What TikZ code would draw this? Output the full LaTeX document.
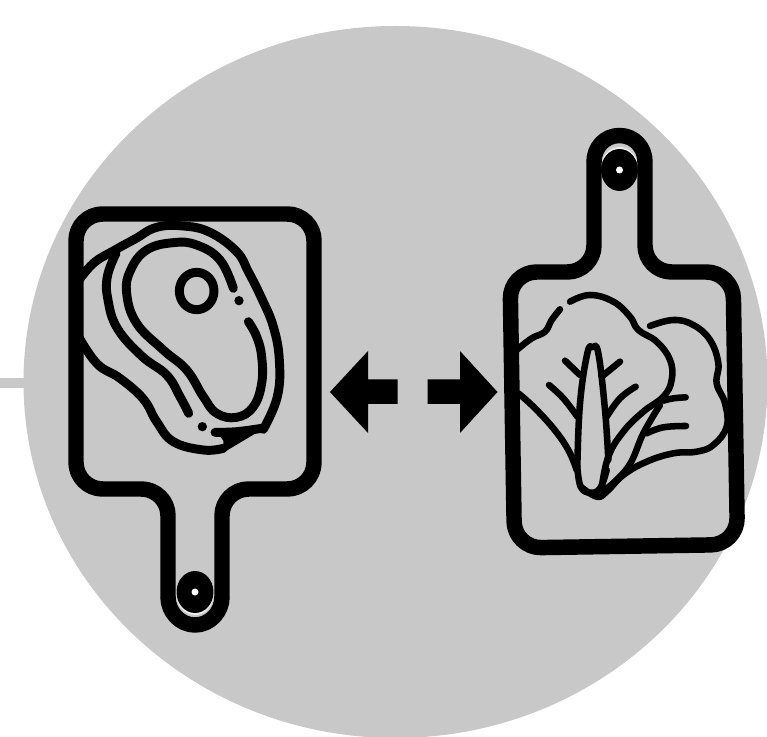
\documentclass[tikz,border=0pt]{standalone}
\usepackage{xcolor}
\usepackage{tikz}
\definecolor{discgray}{HTML}{C8C8C8}
\tikzset{
  boardline/.style={draw=black, line width=11.6pt, line join=round},
  boardbody/.style={boardline, rounded corners=20pt},
  meatline/.style={draw=black, line width=6.7pt, line cap=round, line join=round},
  leafline/.style={draw=black, line width=4.9pt, line cap=round, line join=round},
}
\begin{document}
\begin{tikzpicture}[x=0.75pt,y=-0.75pt]
\useasboundingbox (0,0) rectangle (767,737);

\begin{scope}
\clip (0,0) rectangle (767,737);
\fill[discgray] (395.5,382) ellipse[x radius=372, y radius=356];
\fill[discgray] (0,378) rectangle (30,388);
\end{scope}

% steak
\begin{scope}[shift={(60,200)},x=0.25pt,y=-0.25pt]
\draw[meatline] plot[smooth,tension=0.7] coordinates {(50,250) (100,190) (165,150) (225,117) (290,82) (370,78) (450,97) (530,155) (565,215) (605,295) (640,380) (658,480) (652,590) (610,688)};
\draw[meatline] plot[smooth,tension=0.7] coordinates {(50,400) (110,490) (180,535) (250,597) (290,665) (340,725) (430,750) (490,745)};
\draw[meatline] plot[smooth,tension=0.7] coordinates {(168,160) (142,230) (144,300) (172,385) (245,468) (320,525) (360,590) (386,640)};
\draw[meatline] plot[smooth,tension=0.7] coordinates {(520,265) (480,180) (410,135) (340,128) (260,150) (212,210) (200,280) (230,370) (310,450) (380,510) (430,590) (470,640) (530,652) (580,620) (605,550) (605,470) (590,410) (565,365)};
\draw[meatline] plot[smooth,tension=0.7] coordinates {(465,697) (530,695) (605,685)};
\fill[black] (490,722) -- (470,695) -- (612,685) -- (490,758) -- cycle;
\draw[meatline] (410,273) ellipse[x radius=52, y radius=56];
\fill[black] (537,302) circle[radius=14];
\fill[black] (427,680) circle[radius=14];
\end{scope}

% lettuce
\begin{scope}[shift={(500,270)},x=0.25pt,y=-0.25pt]
\draw[leafline] plot[smooth,tension=0.7] coordinates {(210,95) (270,75) (340,95) (390,140) (415,180) (470,215) (510,270) (515,330) (490,380) (430,425) (370,485) (325,560) (305,655)};
\draw[leafline] plot[smooth,tension=0.7] coordinates {(180,118) (155,150) (135,185) (95,205) (50,240)};
\draw[leafline] plot[smooth,tension=0.7] coordinates {(55,370) (100,410) (160,475) (205,540) (230,600)};
\draw[leafline] plot[smooth,tension=0.7] coordinates {(232,590) (240,400) (262,250) (278,232) (295,250) (315,420) (325,570)};
\draw[leafline] plot[smooth,tension=0.7] coordinates {(232,590) (242,650) (270,668) (300,655) (320,600)};
\draw[leafline] plot[smooth,tension=0.7] coordinates {(242,650) (290,680) (320,665) (370,615) (440,575) (520,550) (590,545) (640,525) (680,470) (675,400) (650,340) (655,280) (630,210) (580,165) (520,150) (450,168)};
\draw[leafline] plot[smooth,tension=0.7] coordinates {(480,405) (430,490) (385,590) (315,660)};
\draw[leafline] (195,272) -- (240,315);
\draw[leafline] (360,275) -- (305,320);
\draw[leafline] plot[smooth,tension=0.7] coordinates {(147,345) (190,385) (232,440)};
\draw[leafline] plot[smooth,tension=0.7] coordinates {(407,350) (360,385) (320,440)};
\draw[leafline] plot[smooth,tension=0.7] coordinates {(490,392) (520,385) (557,382)};
\draw[leafline] plot[smooth,tension=0.7] coordinates {(440,490) (490,472) (558,468)};
\end{scope}

% hanging holes
\fill[discgray!30!white] (195,593) ellipse[x radius=19, y radius=22];
\fill[black] (195,592) ellipse[x radius=18.5, y radius=21];
\fill[white] (195,592) circle[radius=3.5];
\fill[discgray!30!white] (619.5,169) ellipse[x radius=19, y radius=22];
\fill[black] (619.5,170) ellipse[x radius=18.5, y radius=21];
\fill[white] (619.5,170) circle[radius=3.5];

% boards
\draw[boardbody] (168,598) -- (168,489) -- (76,489) -- (76,214) -- (314,214) -- (314,489) -- (222,489) -- (222,598);
\draw[boardline] (222,597) .. controls (222,612) and (210,625) .. (195,625) .. controls (180,625) and (168,612) .. (168,597);
\draw[boardbody] (594,161) -- (594,272) -- (510,272) -- (514.5,548) -- (737.5,544.5) -- (733,272) -- (645,272) -- (645,161);
\draw[boardline] (594,162) .. controls (594,147) and (605,135.5) .. (619.5,135.5) .. controls (634,135.5) and (645,147) .. (645,162);

% arrows
\fill[black] (330,392) -- (368,351) -- (368,379.5) -- (397.5,379.5) -- (397.5,404) -- (368,404) -- (368,433) -- cycle;
\fill[black] (497.5,392) -- (460,351) -- (460,379.5) -- (427.5,379.5) -- (427.5,404) -- (460,404) -- (460,433) -- cycle;
\end{tikzpicture}
\end{document}
